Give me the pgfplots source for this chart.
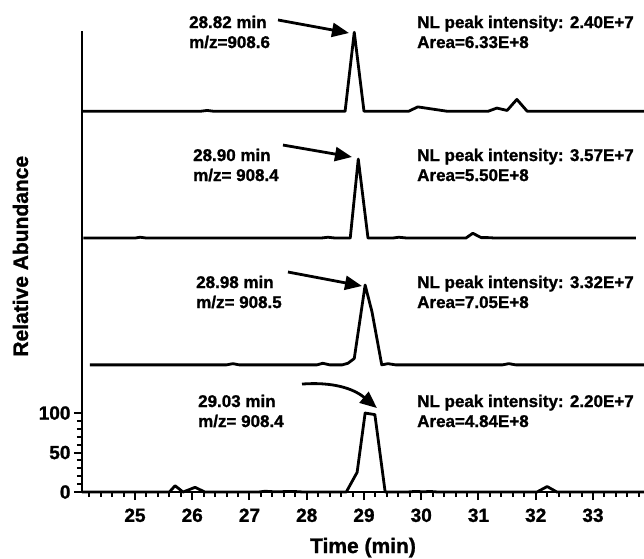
\documentclass[border=0pt]{standalone}
\usepackage{fontspec}
\setmainfont{Liberation Sans}[BoldFeatures={FakeBold=1.2}]
\usepackage{pgfplots}
\pgfplotsset{compat=1.18}
\usetikzlibrary{arrows.meta}
\newcommand\annot{\fontsize{17}{17}\selectfont\bfseries}
\begin{document}
\begin{tikzpicture}
\begin{axis}[
 scale only axis, width=562pt, height=460.6pt,
 xmin=24.074, xmax=33.891, ymin=0, ymax=583,
 axis x line=bottom, axis y line=left,
 axis line style={-, line width=2.5pt},
 clip=false,
 xtick={25,...,33}, minor xtick={24.2,24.4,...,33.85},
 ytick={0,50,100}, minor ytick={10,20,30,40,60,70,80,90},
 tick align=outside,
 major tick length=8pt, minor tick length=5pt,
 tick style={black, line width=2pt},
 minor tick style={black, line width=2pt},
 tick label style={font=\fontsize{19}{19}\selectfont\bfseries},
 xticklabel style={yshift=-5pt},
 /pgf/number format/assume math mode=true,
 xlabel={Time (min)}, ylabel={Relative Abundance},
 label style={font=\fontsize{21}{21}\selectfont\bfseries},
 xlabel style={at={(rel axis cs:0.5,-0.1324)}, anchor=base},
 ylabel style={at={(rel axis cs:-0.0961,0.512)}, anchor=base},
]
% trace 1 (offset 482)
\addplot[line width=2.8pt, line join=round] table {
24.074 482
26.15 482
26.26 483
26.37 482
28.67 482
28.83 582
29.00 482
29.78 482
29.94 487.5
30.45 482
31.17 482
31.32 486
31.50 483
31.67 497
31.85 482
33.891 482
};
% trace 2 (offset 321.5)
\addplot[line width=2.8pt, line join=round] table {
24.10 321.5
25.00 321.5
25.09 322.5
25.20 321.5
28.25 321.5
28.37 322.5
28.50 321.5
28.76 321.5
28.90 421.5
29.07 321.5
29.50 321.5
29.61 322.5
29.75 321.5
30.78 321.5
30.90 327.5
31.05 322
31.17 322
31.30 321.5
33.75 321.5
};
% trace 3 (offset 161)
\addplot[line width=2.8pt, line join=round] table {
24.21 161
26.60 161
26.71 162.5
26.82 161
28.18 161
28.28 163
28.40 161
28.62 161
28.72 163
28.83 169
29.02 262
29.14 228
29.31 161
29.42 162.5
29.55 161
31.42 161
31.53 162.5
31.65 161
33.891 161
};
% trace 4 (offset 0)
\addplot[line width=2.8pt, line join=round] table {
24.074 0
25.60 0
25.70 8
25.84 0
26.05 6
26.22 0
27.15 0
27.27 1
27.45 0.3
27.76 0.8
27.95 0
28.69 0
28.88 25
29.02 100
29.19 98
29.37 0
29.75 0
29.89 0.8
30.05 0.3
30.15 0.8
30.30 0
32.02 0
32.20 7
32.37 0
33.891 0
};
\begin{scope}[every node/.style={anchor=base west, inner sep=0pt, font=\annot}]
\node at (axis cs:25.943,587.3) {28.82 min};
\node at (axis cs:25.943,562.0) {m/z=908.6};
\node at (axis cs:29.926,587.3) {NL peak intensity: 2.40E+7};
\node at (axis cs:29.926,562.0) {Area=6.33E+8};
\node at (axis cs:26.013,419.0) {28.90 min};
\node at (axis cs:26.013,393.7) {m/z= 908.4};
\node at (axis cs:29.926,419.0) {NL peak intensity: 3.57E+7};
\node at (axis cs:29.926,393.7) {Area=5.50E+8};
\node at (axis cs:26.066,258.2) {28.98 min};
\node at (axis cs:26.066,232.9) {m/z= 908.5};
\node at (axis cs:29.926,258.2) {NL peak intensity: 3.32E+7};
\node at (axis cs:29.926,232.9) {Area=7.05E+8};
\node at (axis cs:26.10,107.6) {29.03 min};
\node at (axis cs:26.10,82.3) {m/z= 908.4};
\node at (axis cs:29.926,107.6) {NL peak intensity: 2.20E+7};
\node at (axis cs:29.926,82.3) {Area=4.84E+8};
\end{scope}
\begin{scope}[line width=2.8pt, -{Triangle[length=17pt,width=14pt]}]
\draw (axis cs:27.498,597.5) -- (axis cs:28.738,581.0);
\draw (axis cs:27.585,439.2) -- (axis cs:28.790,424.1);
\draw (axis cs:27.672,278.5) -- (axis cs:28.965,260.8);
\draw (axis cs:27.917,136.7) to[bend left=22] (axis cs:29.227,106.3);
\end{scope}
\coordinate (BL) at (axis cs:22.642,-83.54);
\coordinate (TR) at (axis cs:33.891,622.8);
\end{axis}
\pgfresetboundingbox
\path[use as bounding box] (BL) rectangle (TR);
\end{tikzpicture}
\end{document}
